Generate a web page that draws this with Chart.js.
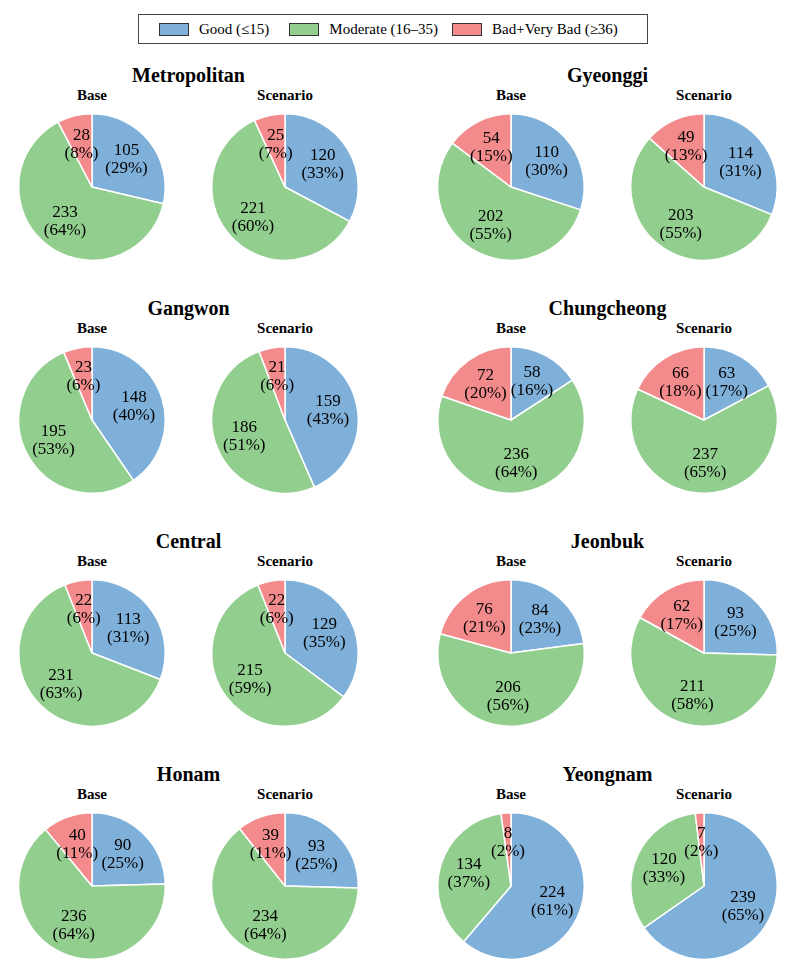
<!DOCTYPE html>
<html>
<head>
<meta charset="utf-8">
<script src="https://cdn.jsdelivr.net/npm/chart.js@4.4.1/dist/chart.umd.min.js"></script>
<style>
  body { margin: 0; background: #fff; }
  #page { position: relative; width: 800px; height: 976px; font-family: 'Liberation Serif', serif; color: #000; }
  .legend { position: absolute; left: 138px; top: 14px; width: 510px; height: 30px; border: 1px solid #444;
            display: flex; align-items: center; padding-left: 20px; box-sizing: border-box; font-size: 15px; white-space: nowrap; }
  .legend .item { display: flex; align-items: center; flex: none; }
  .legend .sw { width: 28px; height: 11px; border: 1px solid #333; margin-right: 10px; flex: none; }
  .region { position: absolute; width: 300px; text-align: center; font-weight: bold; font-size: 20px; line-height: 24px; }
  .sub { position: absolute; width: 160px; text-align: center; font-weight: bold; font-size: 15px; line-height: 18px; }
  .pie { position: absolute; width: 160px; height: 160px; }
</style>
</head>
<body>
<div id="page">
  <div class="legend" id="legend"></div>
</div>
<script>
const categories = ['Good (≤15)', 'Moderate (16–35)', 'Bad+Very Bad (≥36)'];
const colors = ['#7fb0da', '#92cf8f', '#f38b8c'];
const regions = ['Metropolitan', 'Gyeonggi', 'Gangwon', 'Chungcheong', 'Central', 'Jeonbuk', 'Honam', 'Yeongnam'];
const panels = ['Base', 'Scenario'];

// days per class, one entry per region
const baseGood     = [105, 110, 148,  58, 113,  84,  90, 224];
const baseModerate = [233, 202, 195, 236, 231, 206, 236, 134];
const baseBad      = [ 28,  54,  23,  72,  22,  76,  40,   8];
const scenGood     = [120, 114, 159,  63, 129,  93,  93, 239];
const scenModerate = [221, 203, 186, 237, 215, 211, 234, 120];
const scenBad      = [ 25,  49,  21,  66,  22,  62,  39,   7];

const page = document.getElementById('page');
const labelFont = '17px "Liberation Serif"';

// legend
const legend = document.getElementById('legend');
const gaps = [20, 14, 0];
categories.forEach((c, i) => {
    const item = document.createElement('div');
    item.className = 'item';
    item.style.marginRight = gaps[i] + 'px';
    item.innerHTML = '<div class="sw" style="background:' + colors[i] + '"></div><span>' + c + '</span>';
    legend.appendChild(item);
});

// label values + percentages inside each slice
const sliceLabels = {
    id: 'sliceLabels',
    afterDatasetsDraw(chart) {
        const ctx = chart.ctx;
        const values = chart.data.datasets[0].data;
        const total = values.reduce((a, b) => a + b, 0);
        ctx.save();
        ctx.font = labelFont;
        ctx.fillStyle = '#000';
        ctx.textAlign = 'center';
        ctx.textBaseline = 'middle';
        chart.getDatasetMeta(0).data.forEach((arc, i) => {
            const p = arc.getProps(['x', 'y', 'startAngle', 'endAngle', 'outerRadius'], true);
            const mid = (p.startAngle + p.endAngle) / 2;
            const r = p.outerRadius * 0.6;
            const x = p.x + Math.cos(mid) * r;
            const y = p.y + Math.sin(mid) * r;
            const pct = Math.round(values[i] / total * 100);
            ctx.fillText(String(values[i]), x, y - 9);
            ctx.fillText('(' + pct + '%)', x, y + 9);
        });
        ctx.restore();
    }
};

const colX = [92, 285, 511, 704];
const rowY = [187, 420, 653, 886];

const addText = (cls, text, left, top) => {
    const d = document.createElement('div');
    d.className = cls;
    d.textContent = text;
    d.style.left = left + 'px';
    d.style.top = top + 'px';
    page.appendChild(d);
};

const makePie = (cx, cy, values) => {
    const holder = document.createElement('div');
    holder.className = 'pie';
    holder.style.left = (cx - 80) + 'px';
    holder.style.top = (cy - 80) + 'px';
    const canvas = document.createElement('canvas');
    canvas.width = 160;
    canvas.height = 160;
    holder.appendChild(canvas);
    page.appendChild(holder);
    return new Chart(canvas, {
        type: 'pie',
        data: {
            labels: categories,
            datasets: [{
                data: values,
                backgroundColor: colors,
                borderColor: '#fff',
                borderWidth: 1.5,
                hoverOffset: 0
            }]
        },
        options: {
            responsive: false,
            animation: false,
            layout: { padding: 6 },
            plugins: { legend: { display: false }, tooltip: { enabled: false } }
        },
        plugins: [sliceLabels]
    });
};

const build = () => {
    regions.forEach((name, k) => {
        const row = Math.floor(k / 2);
        const side = k % 2;
        const cy = rowY[row];
        const xb = colX[side * 2], xs = colX[side * 2 + 1];
        addText('region', name, (xb + xs) / 2 - 150, cy - 124);
        addText('sub', panels[0], xb - 80, cy - 101);
        addText('sub', panels[1], xs - 80, cy - 101);
        makePie(xb, cy, [baseGood[k], baseModerate[k], baseBad[k]]);
        makePie(xs, cy, [scenGood[k], scenModerate[k], scenBad[k]]);
    });
};

document.fonts.load(labelFont, '0123456789()%').then(build, build);
</script>
</body>
</html>
